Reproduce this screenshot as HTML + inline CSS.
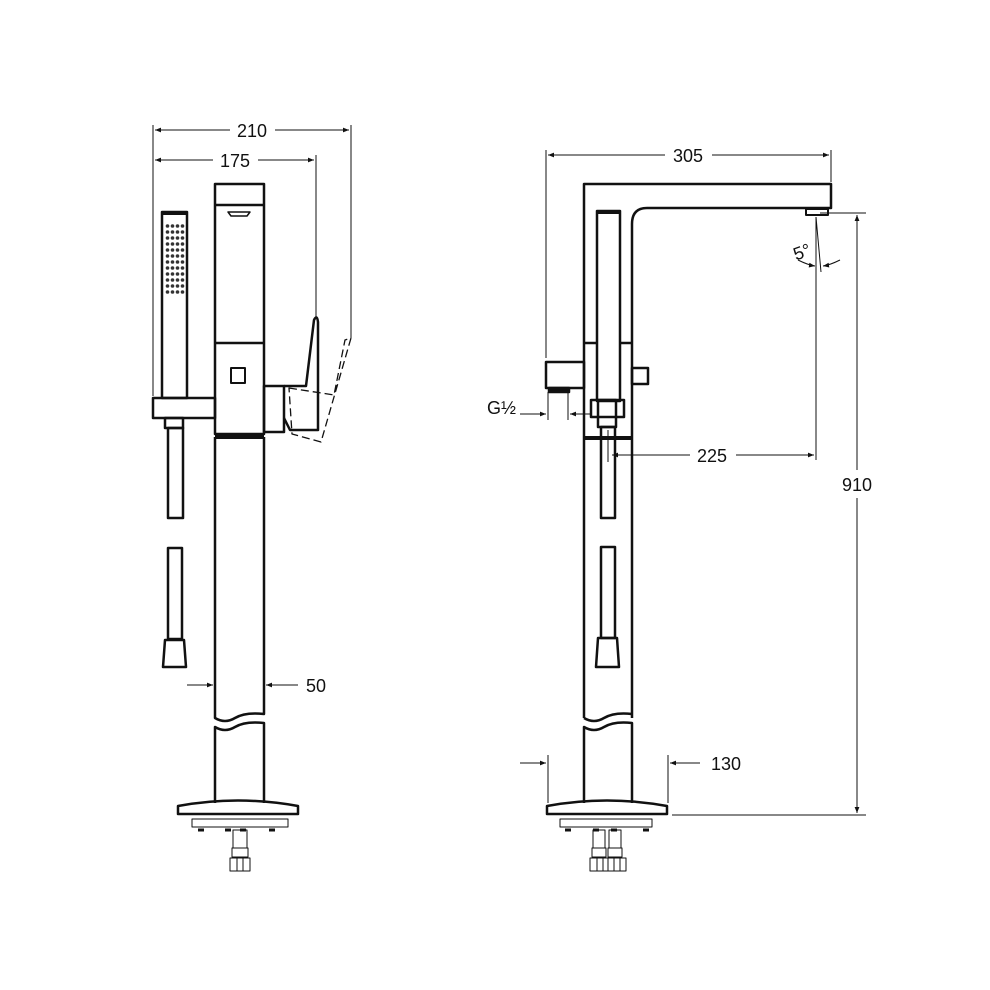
<!DOCTYPE html>
<html><head><meta charset="utf-8"><style>
html,body{margin:0;padding:0;background:#fff}
svg{display:block}
text{font-family:"Liberation Sans",sans-serif;font-size:18px;fill:#111}
</style></head><body>
<svg width="990" height="990" viewBox="0 0 990 990" xmlns="http://www.w3.org/2000/svg">
<defs>
<marker id="a" viewBox="0 0 10 10" refX="10" refY="5" markerWidth="9" markerHeight="6" orient="auto-start-reverse" markerUnits="userSpaceOnUse"><path d="M0,1 L10,5 L0,9z" fill="#111"/></marker>
<pattern id="dots" x="165" y="223" width="5" height="6" patternUnits="userSpaceOnUse"><circle cx="2.5" cy="3" r="1.8" fill="#333"/></pattern>
</defs>
<g fill="none" stroke="#111" stroke-width="2.5" stroke-linejoin="round">
<!-- LEFT VIEW -->
<rect x="215" y="184" width="49" height="250"/>
<line x1="215" y1="205" x2="264" y2="205"/>
<line x1="215" y1="343" x2="264" y2="343"/>
<path d="M228,212 h22 l-3,4 h-16z" stroke-width="1.5"/>
<rect x="231" y="368" width="14" height="15" stroke-width="2"/>
<line x1="215" y1="437" x2="264" y2="437" stroke-width="4"/>
<path d="M215,437 V718 q10,6 20,0 t29,-4 V437"/>
<path d="M215,803 V727 q10,6 20,0 t29,-4 V803"/>
<path d="M178,814 V806 Q238,795 298,806 V814 Z"/>
<rect x="192" y="819" width="96" height="8" stroke-width="1"/>
<g stroke-width="3"><line x1="198" y1="830" x2="204" y2="830"/><line x1="225" y1="830" x2="231" y2="830"/><line x1="240" y1="830" x2="246" y2="830"/><line x1="269" y1="830" x2="275" y2="830"/></g>
<g stroke-width="1"><rect x="233" y="830" width="14" height="18"/><rect x="232" y="848" width="16" height="9"/><rect x="230" y="858" width="20" height="13"/><line x1="237" y1="858" x2="237" y2="871"/><line x1="243" y1="858" x2="243" y2="871"/></g>
<!-- hand shower left -->
<rect x="162" y="212" width="25" height="186"/>
<line x1="162" y1="213" x2="187" y2="213" stroke-width="4"/>
<rect x="165" y="223" width="20" height="72" fill="url(#dots)" stroke="none"/>
<rect x="153" y="398" width="62" height="20"/>
<rect x="165" y="418" width="18" height="10"/>
<rect x="168" y="428" width="15" height="90"/>
<rect x="168" y="548" width="14" height="91"/>
<path d="M165,640 h19 l2,27 h-23z"/>
<!-- valve & lever -->
<rect x="264" y="386" width="20" height="46"/>
<path d="M284,386 H306 L314,320 Q317,314 318,322 L318,430 H290 L284,418" />
<path d="M289,388 L334,395 L345,340 L351,338 L321,442 L292,434 Z" stroke-width="1.3" stroke-dasharray="8,4"/>
<!-- right column -->
<path d="M584,718 V184 H831 V208 H647 Q632,208 632,224 V718"/>
<path d="M584,718 q10,6 20,0 t28,-4" />
<path d="M584,803 V727 q10,6 20,0 t28,-4 V803"/>
<rect x="806" y="209" width="22" height="6" stroke-width="2"/>
<rect x="597" y="211" width="23" height="190"/>
<line x1="597" y1="212" x2="620" y2="212" stroke-width="4"/>
<line x1="620" y1="215" x2="620" y2="300" stroke-width="1" stroke-dasharray="1,2"/>
<line x1="584" y1="343" x2="597" y2="343"/><line x1="620" y1="343" x2="632" y2="343"/>
<line x1="584" y1="438" x2="632" y2="438" stroke-width="4"/>
<rect x="546" y="362" width="38" height="26"/>
<rect x="549" y="388" width="20" height="4" fill="#111"/>
<rect x="632" y="368" width="16" height="16"/>
<rect x="591" y="400" width="33" height="17"/>
<rect x="598" y="400" width="18" height="27"/>
<rect x="601" y="427" width="14" height="91"/>
<rect x="601" y="547" width="14" height="91"/>
<path d="M598,638 h19 l2,29 h-23z"/>
<path d="M547,814 V806 Q607,795 667,806 V814 Z"/>
<rect x="560" y="819" width="92" height="8" stroke-width="1"/>
<g stroke-width="3"><line x1="565" y1="830" x2="571" y2="830"/><line x1="593" y1="830" x2="599" y2="830"/><line x1="611" y1="830" x2="617" y2="830"/><line x1="643" y1="830" x2="649" y2="830"/></g>
<g stroke-width="1"><rect x="593" y="830" width="12" height="18"/><rect x="609" y="830" width="12" height="18"/><rect x="592" y="848" width="14" height="9"/><rect x="608" y="848" width="14" height="9"/><rect x="590" y="858" width="36" height="13"/><line x1="597" y1="858" x2="597" y2="871"/><line x1="603" y1="858" x2="603" y2="871"/><line x1="608" y1="858" x2="608" y2="871"/><line x1="614" y1="858" x2="614" y2="871"/><line x1="620" y1="858" x2="620" y2="871"/></g>
</g>
<!-- dimensions -->
<g fill="none" stroke="#111" stroke-width="1">
<line x1="153" y1="125" x2="153" y2="396"/>
<line x1="351" y1="125" x2="351" y2="338"/>
<line x1="316" y1="155" x2="316" y2="318"/>
<line x1="155" y1="130" x2="230" y2="130" marker-start="url(#a)"/>
<line x1="275" y1="130" x2="349" y2="130" marker-end="url(#a)"/>
<line x1="155" y1="160" x2="213" y2="160" marker-start="url(#a)"/>
<line x1="258" y1="160" x2="314" y2="160" marker-end="url(#a)"/>
<line x1="187" y1="685" x2="213" y2="685" marker-end="url(#a)"/>
<line x1="298" y1="685" x2="266" y2="685" marker-end="url(#a)"/>
<line x1="546" y1="150" x2="546" y2="358"/>
<line x1="831" y1="150" x2="831" y2="182"/>
<line x1="548" y1="155" x2="665" y2="155" marker-start="url(#a)"/>
<line x1="712" y1="155" x2="829" y2="155" marker-end="url(#a)"/>
<line x1="820" y1="213" x2="866" y2="213"/>
<line x1="672" y1="815" x2="866" y2="815"/>
<line x1="857" y1="215" x2="857" y2="470" marker-start="url(#a)"/>
<line x1="857" y1="498" x2="857" y2="813" marker-end="url(#a)"/>
<line x1="816" y1="217" x2="816" y2="460"/>
<line x1="816" y1="217" x2="821" y2="272"/>
<path d="M798,260 Q808,265 815,266" marker-end="url(#a)"/>
<path d="M840,260 Q830,265 823,266" marker-end="url(#a)"/>
<line x1="612" y1="455" x2="690" y2="455" marker-start="url(#a)"/>
<line x1="736" y1="455" x2="814" y2="455" marker-end="url(#a)"/>
<line x1="608" y1="430" x2="608" y2="462"/>
<line x1="548" y1="392" x2="548" y2="420"/>
<line x1="568" y1="392" x2="568" y2="420"/>
<line x1="520" y1="414" x2="546" y2="414" marker-end="url(#a)"/>
<line x1="592" y1="414" x2="570" y2="414" marker-end="url(#a)"/>
<line x1="548" y1="755" x2="548" y2="803"/>
<line x1="668" y1="755" x2="668" y2="803"/>
<line x1="520" y1="763" x2="546" y2="763" marker-end="url(#a)"/>
<line x1="700" y1="763" x2="670" y2="763" marker-end="url(#a)"/>
</g>
<text x="252" y="137" text-anchor="middle">210</text>
<text x="235" y="167" text-anchor="middle">175</text>
<text x="316" y="692" text-anchor="middle">50</text>
<text x="688" y="162" text-anchor="middle">305</text>
<text x="857" y="491" text-anchor="middle">910</text>
<text x="712" y="462" text-anchor="middle">225</text>
<text x="726" y="770" text-anchor="middle">130</text>
<text x="802" y="258" text-anchor="middle" font-size="16" transform="rotate(-20 802 252)">5°</text>
<text x="487" y="414" font-size="16">G½</text>
</svg>
</body></html>
